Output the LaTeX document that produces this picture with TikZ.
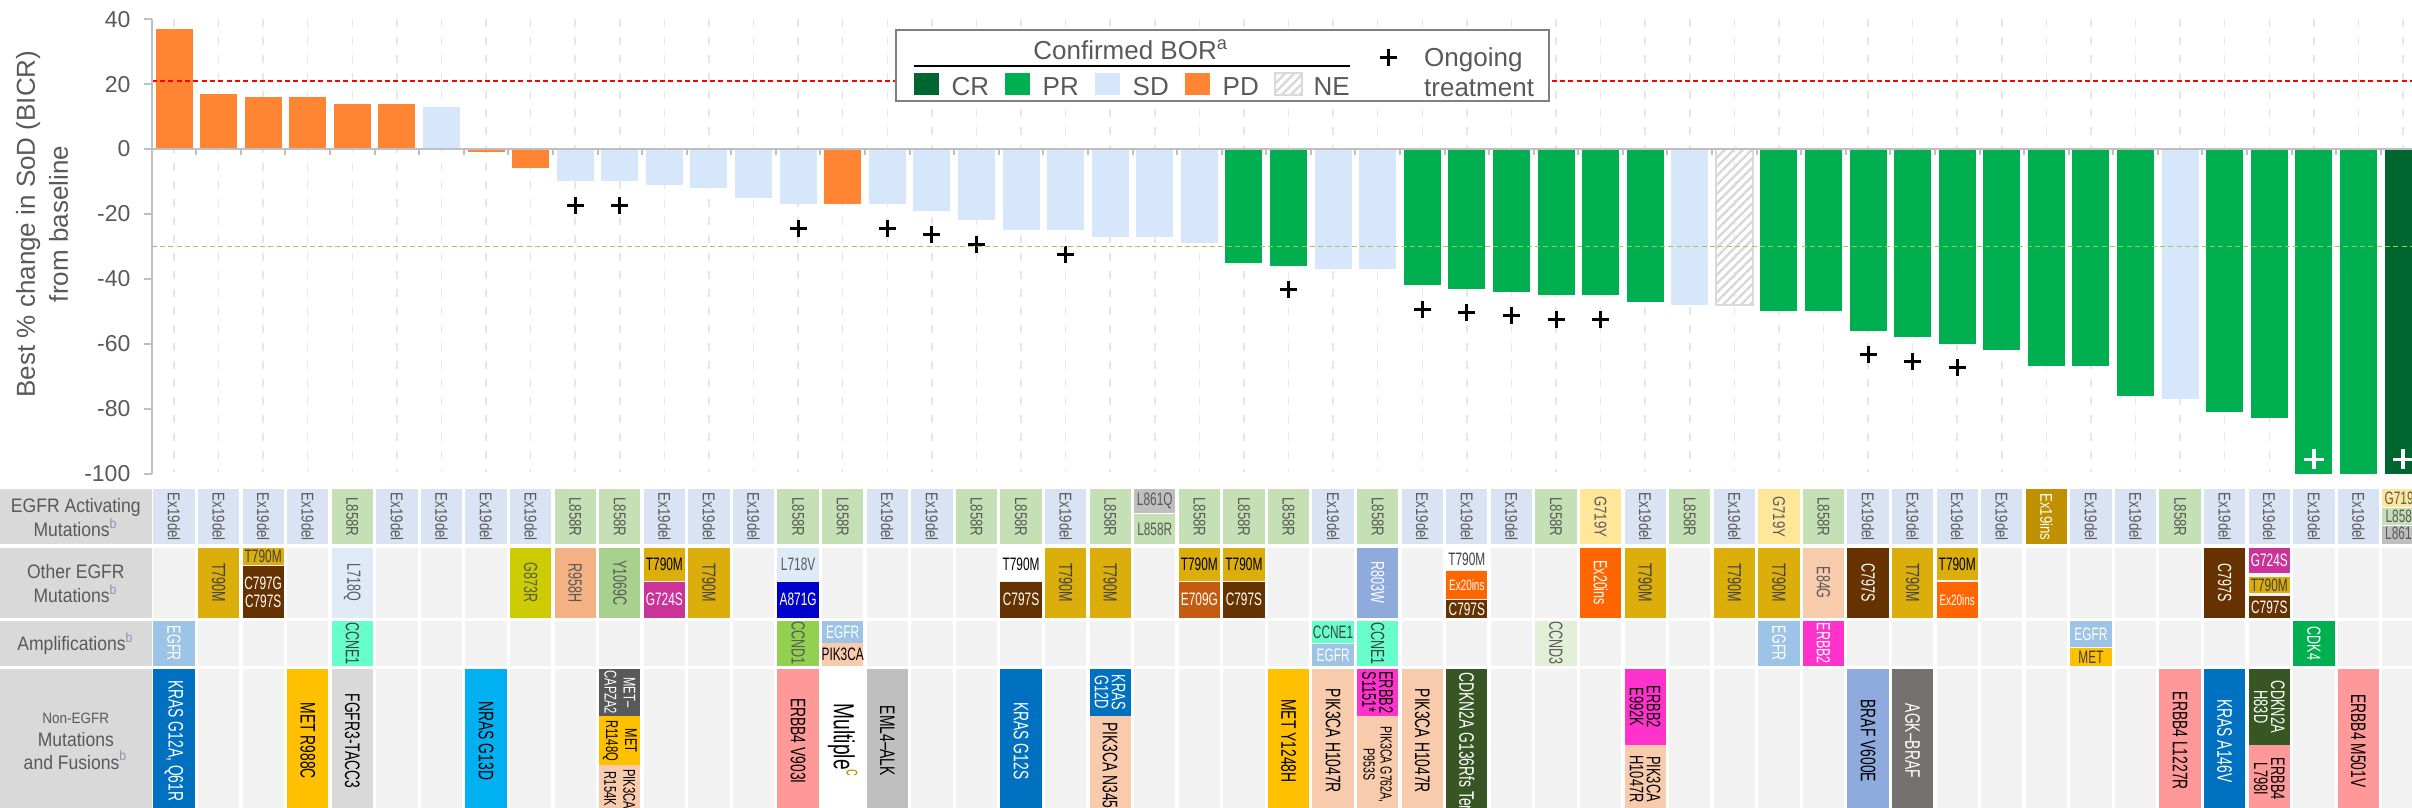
\documentclass[tikz,border=0pt]{standalone}
\usepackage{fontspec}
\setmainfont{Liberation Sans}
\newfontfamily\cndafont{Liberation Sans}[FakeStretch=0.78]
\newfontfamily\cndfont{Liberation Sans}[FakeStretch=0.66]
\newfontfamily\hdrfont{Liberation Sans}[FakeStretch=0.9]

% general colours
\definecolor{txt}{HTML}{595959}
\definecolor{dtxt}{HTML}{404040}
\definecolor{axisg}{HTML}{BFBFBF}
\definecolor{gridg}{HTML}{E6E6E6}
\definecolor{hdr}{HTML}{D9D9D9}
\definecolor{cellbg}{HTML}{F2F2F2}
\definecolor{supc}{HTML}{8497B0}
\definecolor{legb}{HTML}{808080}
\definecolor{redl}{HTML}{FF0000}
\definecolor{grnl}{HTML}{92D050}
% response categories
\definecolor{PD}{HTML}{FF8533}
\definecolor{SD}{HTML}{D6E6FB}
\definecolor{PR}{HTML}{00B050}
\definecolor{CR}{HTML}{00662F}
\definecolor{NEg}{HTML}{D9D9D9}
% alteration colours
\definecolor{exd}{HTML}{DAE3F3}
\definecolor{lfe}{HTML}{C5E0B4}
\definecolor{gsev}{HTML}{FFE699}
\definecolor{lsix}{HTML}{BFBFBF}
\definecolor{exins}{HTML}{BF9000}
\definecolor{gold}{HTML}{DCAE0C}
\definecolor{brown}{HTML}{663300}
\definecolor{magA}{HTML}{CC3399}
\definecolor{blueA}{HTML}{0000CC}
\definecolor{orbr}{HTML}{C55A11}
\definecolor{exti}{HTML}{FF6600}
\definecolor{lblue}{HTML}{DEEBF7}
\definecolor{olive}{HTML}{CCCC00}
\definecolor{salmon}{HTML}{F4B183}
\definecolor{ygreen}{HTML}{A9D18E}
\definecolor{steel}{HTML}{8FAADC}
\definecolor{peach}{HTML}{F8CBAD}
\definecolor{ampb}{HTML}{9DC3E6}
\definecolor{aqua}{HTML}{66FFCC}
\definecolor{lime}{HTML}{92D050}
\definecolor{pgreen}{HTML}{E2F0D9}
\definecolor{magB}{HTML}{FF33CC}
\definecolor{metg}{HTML}{FFC000}
\definecolor{cdk}{HTML}{00B050}
\definecolor{kras}{HTML}{0070C0}
\definecolor{nras}{HTML}{00B0F0}
\definecolor{lgray}{HTML}{D9D9D9}
\definecolor{dgray}{HTML}{595959}
\definecolor{pink}{HTML}{FF9999}
\definecolor{mgray}{HTML}{BFBFBF}
\definecolor{dgreen}{HTML}{375623}
\definecolor{agk}{HTML}{767171}
\definecolor{olivec}{HTML}{BF9000}

% column centre (1 unit = 1 px)
\newcommand\cx[1]{(174+(#1-1)*44.58)}
% one coloured segment of a table cell with its label
\newcommand\seg[7]{%
  \fill[#5] ({\cx{#2}-20.65},#3) rectangle ({\cx{#2}+20.65},#4);
  \node[#6] (#1) at ({\cx{#2}},{(#3+#4)/2}) {#7};}
% plus marker: column, y, style, half arm
\newcommand\plusat[4]{\draw[#3] ({\cx{#1}-#4},#2) -- ({\cx{#1}+#4},#2) ({\cx{#1}},#2-#4) -- ({\cx{#1}},#2+#4);}
% hatched box for NE
\newcommand\hatchbox[4]{%
  \begin{scope}
    \clip (#1,#2) rectangle (#3,#4);
    \foreach \k in {-200,-191,...,60} {\draw[hatchl] (#1+\k,#4) -- ++(200,-200);}
  \end{scope}
  \draw[nebord] (#1,#2) rectangle (#3,#4);}
\newcommand\sups[1]{\textsuperscript{\color{supc}#1}}

\begin{document}
\begin{tikzpicture}[x=0.3pt,y=-0.3pt,
  gridline/.style={draw=gridg, line width=0.45pt, dash pattern=on 2.4pt off 3pt},
  axis/.style={draw=axisg, line width=0.6pt},
  ticklbl/.style={font=\fontsize{6.9pt}{8pt}\selectfont, text=txt, anchor=east, inner sep=0pt},
  redline/.style={draw=redl, line width=0.39pt, dash pattern=on 1.5pt off 1pt},
  greenline/.style={draw=grnl, line width=0.39pt, dash pattern=on 1.5pt off 1pt},
  pblack/.style={draw=black, line width=0.9pt},
  pwhite/.style={draw=white, line width=1.05pt},
  hatchl/.style={draw=NEg, line width=0.75pt},
  nebord/.style={draw=NEg, line width=0.6pt},
  legbox/.style={draw=legb, line width=0.6pt, fill=white},
  legtxt/.style={font=\fontsize{7.8pt}{9pt}\selectfont, text=txt, inner sep=0pt},
  hdrtxt/.style={font=\hdrfont\fontsize{5.85pt}{7.35pt}\selectfont, text=txt, align=center, inner sep=0pt},
  lA/.style={font=\cndafont\fontsize{5.1pt}{6pt}\selectfont, text=txt, inner sep=0pt, rotate=-90},
  lAh/.style={font=\cndfont\fontsize{5.4pt}{6pt}\selectfont, text=txt, inner sep=0pt},
  lH/.style={font=\cndfont\fontsize{5.4pt}{5.4pt}\selectfont, inner sep=0pt, align=center},
  lS/.style={font=\cndfont\fontsize{4.5pt}{5.4pt}\selectfont, inner sep=0pt, align=center},
  lR/.style={font=\cndfont\fontsize{5.7pt}{5.4pt}\selectfont, inner sep=0pt, rotate=-90, align=center},
  lN/.style={font=\cndfont\fontsize{6.3pt}{5.4pt}\selectfont, inner sep=0pt, rotate=-90, align=center},
  lT/.style={font=\cndfont\fontsize{5.85pt}{5.1pt}\selectfont, inner sep=0pt, rotate=-90, align=center},
  lM/.style={font=\cndfont\fontsize{5.1pt}{5.7pt}\selectfont, inner sep=0pt, rotate=-90, align=center},
  lP/.style={font=\cndfont\fontsize{4.8pt}{5.1pt}\selectfont, inner sep=0pt, rotate=-90, align=center},
]
\useasboundingbox (0,0) rectangle (2412,807);
\clip (0,0) rectangle (2412,807);

% ---------------- waterfall plot ----------------
\foreach \i in {1,...,51} {\draw[gridline] ({\cx{\i}},19) -- ({\cx{\i}},472);}

\foreach \i/\val/\col/\pl in {1/37/PD/0, 2/17/PD/0, 3/16/PD/0, 4/16/PD/0, 5/14/PD/0, 6/14/PD/0,
  7/13/SD/0, 8/-1/PD/0, 9/-6/PD/0, 10/-10/SD/1, 11/-10/SD/1, 12/-11/SD/0, 13/-12/SD/0,
  14/-15/SD/0, 15/-17/SD/1, 16/-17/PD/0, 17/-17/SD/1, 18/-19/SD/1, 19/-22/SD/1, 20/-25/SD/0,
  21/-25/SD/1, 22/-27/SD/0, 23/-27/SD/0, 24/-29/SD/0, 25/-35/PR/0, 26/-36/PR/1, 27/-37/SD/0,
  28/-37/SD/0, 29/-42/PR/1, 30/-43/PR/1, 31/-44/PR/1, 32/-45/PR/1, 33/-45/PR/1, 34/-47/PR/0,
  35/-48/SD/0, 37/-50/PR/0, 38/-50/PR/0, 39/-56/PR/1, 40/-58/PR/1, 41/-60/PR/1, 42/-62/PR/0,
  43/-67/PR/0, 44/-67/PR/0, 45/-76/PR/0, 46/-77/SD/0, 47/-81/PR/0, 48/-83/PR/0,
  49/-100/PR/0, 50/-100/PR/0, 51/-100/CR/0}
{
  \fill[fill=\col] ({\cx{\i}-18.5},149) rectangle ({\cx{\i}+18.5},{149-3.245*(\val)});
  \ifnum\pl=1
    \pgfmathsetmacro\yy{149-3.245*(\val)+24}
    \plusat{\i}{\yy}{pblack}{8.5}
  \fi
}
% not evaluable patient
\hatchbox{1715.8}{149}{1752.8}{304.8}

% response thresholds
\draw[redline] (151.7,81) -- (2412,81);
\draw[greenline] (151.7,246.7) -- (2412,246.7);

% axes
\draw[axis] (151.7,19.3) -- (151.7,473.7);
\draw[axis] (145,149) -- (2412,149);
\foreach \k in {0,...,49} {\draw[axis] ({196.3+\k*44.58},149) -- ({196.3+\k*44.58},155);}
\foreach \t [count=\n] in {40,20,0,-20,-40,-60,-80,-100} {
  \draw[axis] (144,{149-3.245*(\t)}) -- (151.7,{149-3.245*(\t)});
  \node[ticklbl] (yt\n) at (131,{149-3.245*(\t)}) {\t};
}
\node[font=\fontsize{7.8pt}{9.9pt}\selectfont, text=txt, align=center, rotate=90, inner sep=0pt]
  (ytitle) at (42,224) {Best \% change in SoD (BICR)\\from baseline};

% complete responders / ongoing treatment inside bars
\plusat{49}{459.3}{pwhite}{10}
\plusat{51}{459.3}{pwhite}{10}

% legend
\draw[legbox] (896,30) rectangle (1549,100.7);
\node[legtxt, anchor=base] (legtitle) at (1131,59.3) {Confirmed BOR\textsuperscript{a}};
\draw[black, line width=0.45pt] (914,66) -- (1350,66);
\fill[CR] (914,73.3) rectangle (939,94.7);
\node[legtxt, anchor=base west] (lcr) at (951,95.5) {CR};
\fill[PR] (1005,73.3) rectangle (1030,94.7);
\node[legtxt, anchor=base west] (lpr) at (1042,95.5) {PR};
\fill[SD] (1095,73.3) rectangle (1120,94.7);
\node[legtxt, anchor=base west] (lsd) at (1132,95.5) {SD};
\fill[PD] (1185,73.3) rectangle (1210,94.7);
\node[legtxt, anchor=base west] (lpd) at (1222,95.5) {PD};
\hatchbox{1275}{73.3}{1301.5}{94.7}
\node[legtxt, anchor=base west] (lne) at (1313,95.5) {NE};
\draw[pblack] (1379.5,57.3) -- (1396.5,57.3) (1388,48.8) -- (1388,65.8);
\node[legtxt, anchor=base west] (lon) at (1423.5,66) {Ongoing};
\node[legtxt, anchor=base west] (ltr) at (1423.5,96.5) {treatment};

% ---------------- alteration table ----------------
\fill[hdr] (0,489.3) rectangle (151.7,544.3);
\fill[hdr] (0,547.7) rectangle (151.7,617.7);
\fill[hdr] (0,621) rectangle (151.7,665.7);
\fill[hdr] (0,668.7) rectangle (151.7,813);
\node[hdrtxt] (h1) at (75.8,517.5) {EGFR Activating\\Mutations\sups{b}};
\node[hdrtxt] (h2) at (75.8,583.5) {Other EGFR\\Mutations\sups{b}};
\node[hdrtxt] (h3) at (75.8,643.5) {Amplifications\sups{b}};
\node[hdrtxt, font=\hdrfont\fontsize{5.85pt}{6.9pt}\selectfont] (h4) at (75.8,741)
  {{\fontsize{4.5pt}{6.9pt}\selectfont Non-EGFR}\\Mutations\\and Fusions\sups{b}};

\foreach \i in {1,...,51} {
  \fill[cellbg] ({\cx{\i}-20.65},547.7) rectangle ({\cx{\i}+20.65},617.7);
  \fill[cellbg] ({\cx{\i}-20.65},621) rectangle ({\cx{\i}+20.65},665.7);
  \fill[cellbg] ({\cx{\i}-20.65},668.7) rectangle ({\cx{\i}+20.65},813);
}

% EGFR activating mutations
\foreach \i in {1,2,3,4,6,7,8,9,12,13,14,17,18,21,27,29,30,31,34,36,39,40,41,42,44,45,47,48,49,50}
  {\seg{a\i}{\i}{489.3}{544.3}{exd}{lA}{Ex19del}}
\foreach \i in {5,10,11,15,16,19,20,22,24,25,26,28,32,35,38,46}
  {\seg{a\i}{\i}{489.3}{544.3}{lfe}{lA}{L858R}}
\seg{a23t}{23}{489.3}{513.3}{lsix}{lAh}{L861Q}
\seg{a23}{23}{514.3}{544.3}{lfe}{lAh}{L858R}
\seg{a33}{33}{489.3}{544.3}{gsev}{lA}{G719Y}
\seg{a37}{37}{489.3}{544.3}{gsev}{lA}{G719Y}
\seg{a43}{43}{489.3}{544.3}{exins}{lA,text=white}{Ex19ins}
\seg{a51t}{51}{489.3}{506.7}{gsev}{lAh}{G719X}
\seg{a51m}{51}{507.7}{525}{lfe}{lAh}{L858R}
\seg{a51}{51}{526}{544.3}{lsix}{lAh}{L861Q}

% other EGFR mutations
\seg{b2}{2}{547.7}{617.7}{gold}{lR,text=dtxt}{T790M}
\seg{b3a}{3}{547.7}{565}{gold}{lH,text=dtxt}{T790M}
\seg{b3b}{3}{566}{617.7}{brown}{lH,text=white}{C797G\\C797S}
\seg{b5}{5}{547.7}{617.7}{lblue}{lR,text=txt}{L718Q}
\seg{b9}{9}{547.7}{617.7}{olive}{lR,text=txt}{G873R}
\seg{b10}{10}{547.7}{617.7}{salmon}{lR,text=txt}{R958H}
\seg{b11}{11}{547.7}{617.7}{ygreen}{lR,text=txt}{Y1069C}
\seg{b12a}{12}{547.7}{580.7}{gold}{lH,text=black}{T790M}
\seg{b12b}{12}{581.7}{617.7}{magA}{lH,text=white}{G724S}
\seg{b13}{13}{547.7}{617.7}{gold}{lR,text=dtxt}{T790M}
\seg{b15a}{15}{547.7}{580.7}{lblue}{lH,text=txt}{L718V}
\seg{b15b}{15}{581.7}{617.7}{blueA}{lH,text=white}{A871G}
\seg{b20a}{20}{547.7}{580.7}{white}{lH,text=black}{T790M}
\seg{b20b}{20}{581.7}{617.7}{brown}{lH,text=white}{C797S}
\seg{b21}{21}{547.7}{617.7}{gold}{lR,text=dtxt}{T790M}
\seg{b22}{22}{547.7}{617.7}{gold}{lR,text=dtxt}{T790M}
\seg{b24a}{24}{547.7}{580.7}{gold}{lH,text=black}{T790M}
\seg{b24b}{24}{581.7}{617.7}{orbr}{lH,text=white}{E709G}
\seg{b25a}{25}{547.7}{580.7}{gold}{lH,text=black}{T790M}
\seg{b25b}{25}{581.7}{617.7}{brown}{lH,text=white}{C797S}
\seg{b28}{28}{547.7}{617.7}{steel}{lR,text=white}{R803W}
\seg{b30a}{30}{547.7}{570}{white}{lH,text=dtxt}{T790M}
\seg{b30b}{30}{571}{599}{exti}{lS,text=white}{Ex20ins}
\seg{b30c}{30}{600}{617.7}{brown}{lH,text=white}{C797S}
\seg{b33}{33}{547.7}{617.7}{exti}{lR,text=white}{Ex20ins}
\seg{b34}{34}{547.7}{617.7}{gold}{lR,text=dtxt}{T790M}
\seg{b36}{36}{547.7}{617.7}{gold}{lR,text=dtxt}{T790M}
\seg{b37}{37}{547.7}{617.7}{gold}{lR,text=dtxt}{T790M}
\seg{b38}{38}{547.7}{617.7}{peach}{lR,text=txt}{E84G}
\seg{b39}{39}{547.7}{617.7}{brown}{lR,text=white}{C797S}
\seg{b40}{40}{547.7}{617.7}{gold}{lR,text=dtxt}{T790M}
\seg{b41a}{41}{547.7}{580}{gold}{lH,text=black}{T790M}
\seg{b41b}{41}{582}{617.7}{exti}{lS,text=white}{Ex20ins}
\seg{b47}{47}{547.7}{617.7}{brown}{lR,text=white}{C797S}
\seg{b48a}{48}{547.7}{573.3}{magA}{lH,text=white}{G724S}
\seg{b48b}{48}{576.7}{593.3}{gold}{lH,text=dtxt}{T790M}
\seg{b48c}{48}{596}{617.7}{brown}{lH,text=white}{C797S}

% amplifications
\seg{c1}{1}{621}{665.7}{ampb}{lR,text=white}{EGFR}
\seg{c5}{5}{621}{665.7}{aqua}{lR,text=dtxt}{CCNE1}
\seg{c15}{15}{621}{665.7}{lime}{lR,text=txt}{CCND1}
\seg{c16a}{16}{621}{642.7}{ampb}{lH,text=white}{EGFR}
\seg{c16b}{16}{643.3}{665.7}{peach}{lH,text=black}{PIK3CA}
\seg{c27a}{27}{621}{643}{aqua}{lH,text=dtxt}{CCNE1}
\seg{c27b}{27}{644}{665.7}{ampb}{lH,text=white}{EGFR}
\seg{c28}{28}{621}{665.7}{aqua}{lR,text=dtxt}{CCNE1}
\seg{c32}{32}{621}{665.7}{pgreen}{lR,text=txt}{CCND3}
\seg{c37}{37}{621}{665.7}{ampb}{lR,text=white}{EGFR}
\seg{c38}{38}{621}{665.7}{magB}{lR,text=white}{ERBB2}
\seg{c44a}{44}{621}{647.3}{ampb}{lH,text=white}{EGFR}
\seg{c44b}{44}{648.3}{665.7}{metg}{lH,text=dtxt}{MET}
\seg{c49}{49}{621}{665.7}{cdk}{lR,text=white}{CDK4}

% non-EGFR mutations and fusions
\seg{d1}{1}{668.7}{813}{kras}{lN,text=white}{KRAS G12A, Q61R}
\seg{d4}{4}{668.7}{813}{metg}{lN,text=black}{MET R988C}
\seg{d5}{5}{668.7}{813}{lgray}{lN,text=black}{FGFR3-TACC3}
\seg{d8}{8}{668.7}{813}{nras}{lN,text=black}{NRAS G13D}
\seg{d11a}{11}{668.7}{716}{dgray}{lM,text=white}{MET–\\CAPZA2}
\seg{d11b}{11}{716}{765}{metg}{lM,text=black}{MET\\R1148Q}
\seg{d11c}{11}{765}{813}{peach}{lM,text=black}{PIK3CA\\R154K}
\seg{d15}{15}{668.7}{813}{pink}{lN,text=black}{ERBB4 V903I}
\seg{d16}{16}{668.7}{813}{white}{lN,text=black,font=\cndfont\fontsize{8.7pt}{9pt}\selectfont}{Multiple\textsuperscript{\color{olivec}c}}
\seg{d17}{17}{668.7}{813}{mgray}{lN,text=black}{EML4–ALK}
\seg{d20}{20}{668.7}{813}{kras}{lN,text=white}{KRAS G12S}
\seg{d22a}{22}{668.7}{716}{kras}{lT,text=white}{KRAS\\G12D}
\fill[peach] ({\cx{22}-20.65},716) rectangle ({\cx{22}+20.65},813);
\node[lN,text=black,anchor=west] (d22b) at ({\cx{22}},721.7) {PIK3CA N345K};
\seg{d26}{26}{668.7}{813}{metg}{lN,text=black}{MET Y1248H}
\seg{d27}{27}{668.7}{813}{peach}{lN,text=black}{PIK3CA H1047R}
\seg{d28a}{28}{668.7}{716}{magB}{lT,text=black}{ERBB2\\S1151*}
\seg{d28b}{28}{716}{813}{peach}{lP,text=black}{PIK3CA G762A,\\P953S}
\seg{d29}{29}{668.7}{813}{peach}{lN,text=black}{PIK3CA H1047R}
\fill[dgreen] ({\cx{30}-20.65},668.7) rectangle ({\cx{30}+20.65},813);
\node[lN,text=white,anchor=west] (d30) at ({\cx{30}},672) {CDKN2A G136Rfs Ter6};
\seg{d34a}{34}{668.7}{745}{magB}{lT,text=black}{ERBB2\\E992K}
\seg{d34b}{34}{745}{813}{peach}{lT,text=black}{PIK3CA\\H1047R}
\seg{d39}{39}{668.7}{813}{steel}{lN,text=black}{BRAF V600E}
\seg{d40}{40}{668.7}{813}{agk}{lN,text=white}{AGK–BRAF}
\seg{d46}{46}{668.7}{813}{pink}{lN,text=black}{ERBB4 L1227R}
\seg{d47}{47}{668.7}{813}{kras}{lN,text=white}{KRAS A146V}
\seg{d48a}{48}{668.7}{745}{dgreen}{lT,text=white}{CDKN2A\\H83D}
\seg{d48b}{48}{745}{813}{pink}{lT,text=black}{ERBB4\\L798I}
\seg{d50}{50}{668.7}{813}{pink}{lN,text=black}{ERBB4 M501V}
\end{tikzpicture}
\end{document}
